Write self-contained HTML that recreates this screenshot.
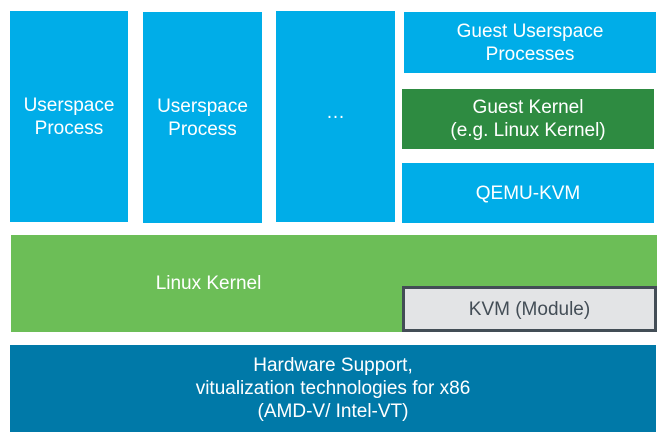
<!DOCTYPE html>
<html><head><style>
body{margin:0;width:671px;height:447px;background:#fff;position:relative;overflow:hidden;font-family:"Liberation Sans",sans-serif;}
.b{position:absolute;display:flex;align-items:center;justify-content:center;text-align:center;color:#fff;font-size:19px;line-height:23px;}
.bl{background:#00ade8;}
</style></head><body>
<div class="b bl" style="left:10px;top:11px;width:118px;height:211px;">Userspace<br>Process</div>
<div class="b bl" style="left:143px;top:12px;width:119px;height:211px;">Userspace<br>Process</div>
<div class="b bl" style="left:276px;top:11px;width:119px;height:211px;padding-bottom:8px;box-sizing:border-box;">…</div>
<div class="b bl" style="left:404px;top:12px;width:252px;height:61px;">Guest Userspace<br>Processes</div>
<div class="b" style="left:402px;top:89px;width:252px;height:60px;background:#2e8b41;">Guest Kernel<br>(e.g. Linux Kernel)</div>
<div class="b bl" style="left:402px;top:163px;width:252px;height:60px;">QEMU-KVM</div>
<div style="position:absolute;left:11px;top:235px;width:646px;height:97px;background:#6cbe57;"></div>
<div class="b" style="left:11px;top:235px;width:395px;height:97px;">Linux Kernel</div>
<div class="b" style="left:402px;top:286px;width:255px;height:46px;box-sizing:border-box;border:3px solid #434d56;background:#e3e4e6;color:#434d56;">KVM (Module)</div>
<div class="b" style="left:10px;top:345px;width:646px;height:87px;background:#0079a8;">Hardware Support,<br>vitualization technologies for x86<br>(AMD-V/ Intel-VT)</div>
</body></html>
